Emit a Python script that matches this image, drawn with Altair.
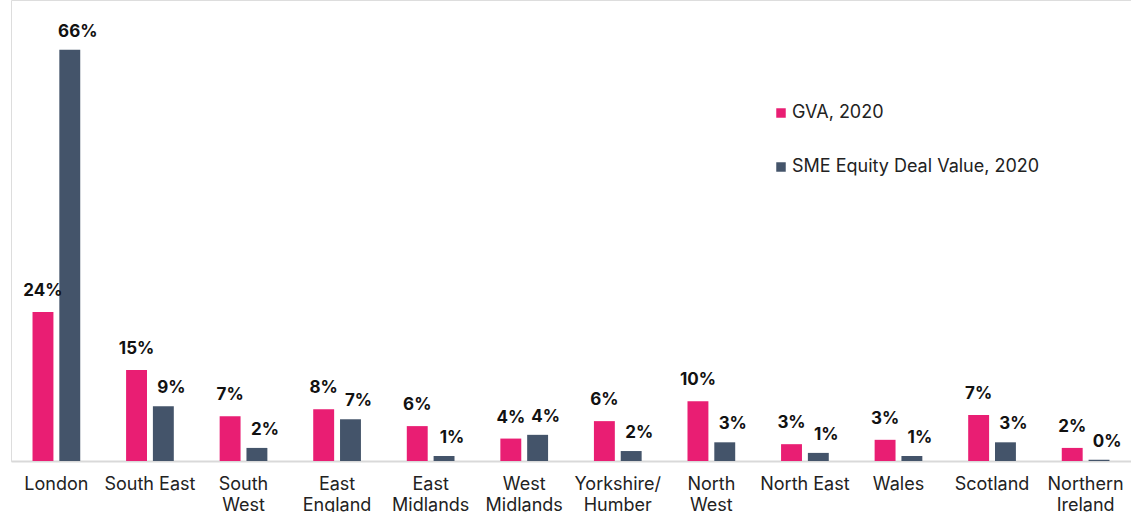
import altair as alt
import pandas as pd

categories = ["London", "South East", "South|West", "East|England", "East|Midlands",
              "West|Midlands", "Yorkshire/|Humber", "North|West", "North East",
              "Wales", "Scotland", "Northern|Ireland"]
series = ["GVA, 2020", "SME Equity Deal Value, 2020"]
colors = ["#E91E73", "#44546A"]
gva = [0.239, 0.146, 0.072, 0.083, 0.056, 0.036, 0.064, 0.096, 0.027, 0.034, 0.074, 0.021]
sme = [0.660, 0.088, 0.021, 0.067, 0.008, 0.042, 0.016, 0.030, 0.013, 0.008, 0.030, 0.002]

rows = []
for c, g, s in zip(categories, gva, sme):
    rows.append({"region": c, "series": series[0], "value": g})
    rows.append({"region": c, "series": series[1], "value": s})
df = pd.DataFrame(rows)

FONT = "Inter"

base = alt.Chart(df).encode(
    x=alt.X("region:N", sort=categories,
            scale=alt.Scale(paddingInner=0.49, paddingOuter=0.23),
            axis=alt.Axis(title=None, labelExpr="split(datum.label, '|')", labelAngle=0,
                          labelFontSize=18, labelFont=FONT, labelColor="#222222",
                          ticks=False, domainColor="#D9D9D9", domainWidth=2,
                          labelPadding=14, labelLineHeight=21, labelBaseline="top")),
    xOffset=alt.XOffset("series:N", sort=series, scale=alt.Scale(paddingInner=0.22)),
    y=alt.Y("value:Q", scale=alt.Scale(domain=[0, 0.74]), axis=None),
)

bars = base.mark_bar().encode(
    color=alt.Color("series:N", sort=series,
                    scale=alt.Scale(domain=series, range=colors),
                    legend=alt.Legend(title=None, orient="none", legendX=761, legendY=104,
                                      labelFontSize=18, labelFont=FONT, labelColor="#222222",
                                      symbolType="square", symbolSize=90, symbolStrokeWidth=0,
                                      rowPadding=36, labelOffset=2, labelLimit=400))
)

t1 = base.transform_filter(alt.datum.series == series[0]).mark_text(
    dy=-16, baseline="alphabetic", fontWeight="bold", fontSize=17, font=FONT, color="#111111"
).encode(text=alt.Text("value:Q", format=".0%"))

t2 = base.transform_filter(alt.datum.series == series[1]).mark_text(
    dx=8, dy=-13, baseline="alphabetic", fontWeight="bold", fontSize=17, font=FONT, color="#111111"
).encode(text=alt.Text("value:Q", format=".0%"))

chart = alt.layer(bars, t1, t2).properties(
    width=1120, height=461,
    autosize=alt.AutoSizeParams(type="none"),
    padding={"left": 11, "top": 0, "right": 0, "bottom": 51},
).configure_view(stroke=None).configure(background="white")

chart.save("out.html", embed_options={"renderer": "svg", "actions": False})
